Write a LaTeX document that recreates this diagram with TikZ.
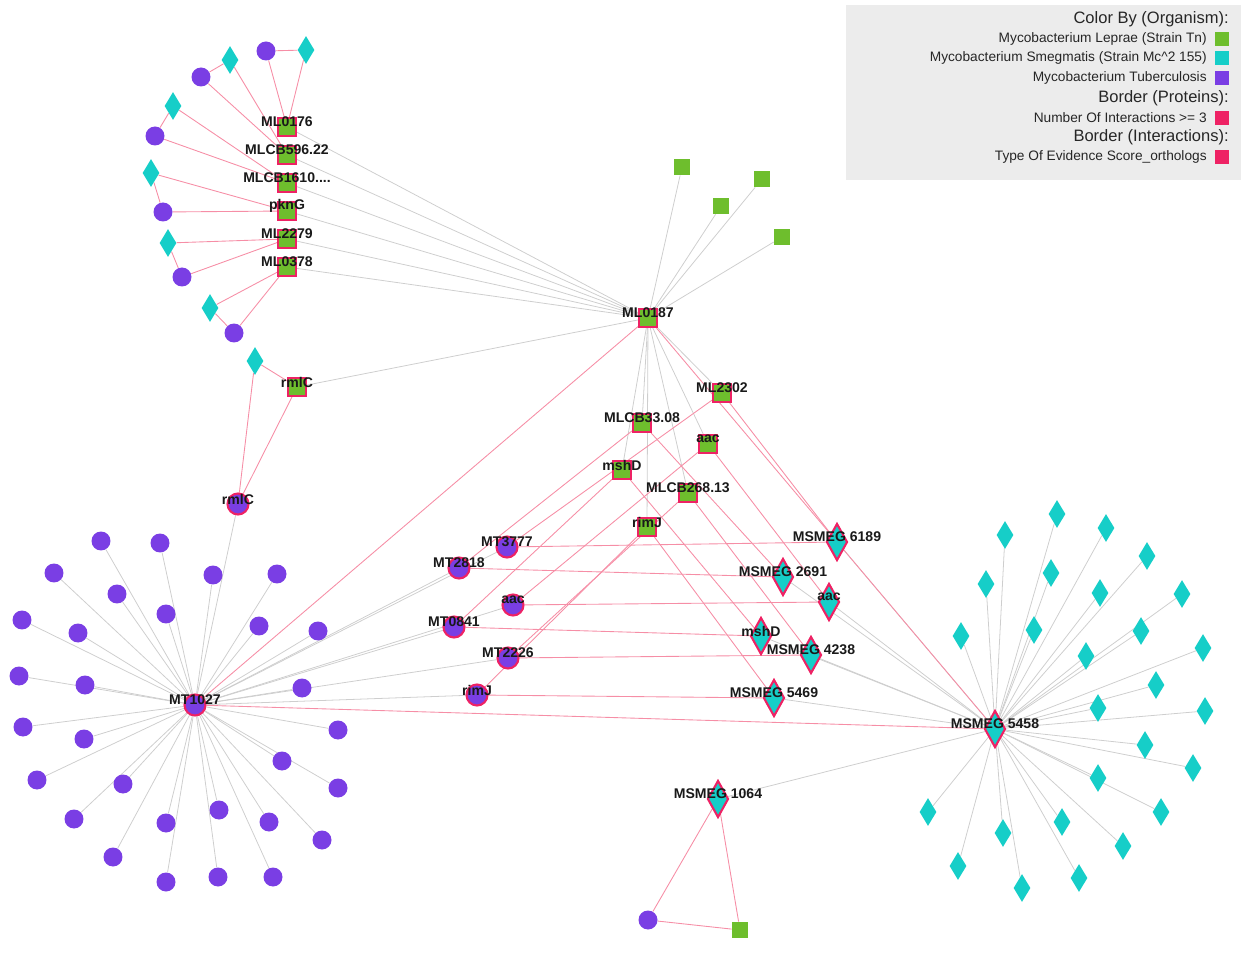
\documentclass[tikz,border=0pt]{standalone}
\usepackage{fontspec}
\setmainfont{Liberation Sans}
\usetikzlibrary{shapes.geometric,backgrounds}
\definecolor{mlgreen}{RGB}{110,190,45}
\definecolor{mscyan}{RGB}{22,206,200}
\definecolor{mtpurple}{RGB}{122,62,228}
\definecolor{hubpink}{RGB}{238,34,100}
\definecolor{linkpink}{RGB}{246,142,166}
\definecolor{linkgray}{RGB}{206,206,206}
\definecolor{legendbg}{RGB}{236,236,236}

\tikzset{
  mlsq/.style={rectangle,fill=mlgreen,minimum size=0.32cm,inner sep=0pt},
  mlhub/.style={mlsq,draw=hubpink,line width=1.2pt,minimum size=0.36cm},
  mtdot/.style={circle,fill=mtpurple,minimum size=0.38cm,inner sep=0pt},
  mthub/.style={mtdot,draw=hubpink,line width=1.2pt,minimum size=0.42cm},
  msdia/.style={diamond,fill=mscyan,minimum width=0.34cm,minimum height=0.56cm,inner sep=0pt},
  mshub/.style={msdia,draw=hubpink,line width=1.2pt,minimum width=0.42cm,minimum height=0.74cm},
  gene/.style={font=\bfseries\fontsize{8}{9}\selectfont,inner sep=0pt,yshift=0.1cm,text=black!90},
  gline/.style={linkgray,line width=0.45pt},
  pline/.style={linkpink,line width=0.5pt},
  leghead/.style={anchor=east,inner sep=0pt,text=black!85,font=\fontsize{9.4}{10}\selectfont},
  legitem/.style={anchor=east,inner sep=0pt,text=black!85,font=\fontsize{7.8}{8}\selectfont},
  legkey/.style={minimum size=0.28cm,inner sep=0pt}
}

\begin{document}
\begin{tikzpicture}[x=0.02cm,y=-0.02cm,line cap=round]
\useasboundingbox (0,0) rectangle (1241,959);

% legend
\fill[legendbg] (846,5) rectangle (1241,180);
\node[leghead] (lgorg) at (1229,19) {Color By (Organism):};
\node[legitem] (lgml) at (1207,39) {Mycobacterium Leprae (Strain Tn)};
\node[legkey,fill=mlgreen] (kml) at (1222,39) {};
\node[legitem] (lgms) at (1207,58) {Mycobacterium Smegmatis (Strain Mc\textasciicircum 2 155)};
\node[legkey,fill=mscyan] (kms) at (1222,58) {};
\node[legitem] (lgmt) at (1207,78) {Mycobacterium Tuberculosis};
\node[legkey,fill=mtpurple] (kmt) at (1222,78) {};
\node[leghead] (lgprot) at (1229,98) {Border (Proteins):};
\node[legitem] (lgnum) at (1207,118) {Number Of Interactions >= 3};
\node[legkey,fill=hubpink] (knum) at (1222,118) {};
\node[leghead] (lgint) at (1229,137) {Border (Interactions):};
\node[legitem] (lgev) at (1207,157) {Type Of Evidence Score\_orthologs};
\node[legkey,fill=hubpink] (kev) at (1222,157) {};

% top-left leprae cluster
\node[mlhub,label={[gene]center:ML0176}] (ml0176) at (287,127) {};
\node[mlhub,label={[gene]center:MLCB596.22}] (mlcb596) at (287,155) {};
\node[mlhub,label={[gene]center:MLCB1610....}] (mlcb1610) at (287,183) {};
\node[mlhub,label={[gene]center:pknG}] (pkng) at (287,211) {};
\node[mlhub,label={[gene]center:ML2279}] (ml2279) at (287,239) {};
\node[mlhub,label={[gene]center:ML0378}] (ml0378) at (287,267) {};
\node[mlhub,label={[gene]center:rmlC}] (rmlcml) at (297,387) {};
\node[mtdot] (c0176) at (266,51) {};
\node[msdia] (d0176) at (306,50) {};
\node[mtdot] (c596) at (201,77) {};
\node[msdia] (d596) at (230,60) {};
\node[mtdot] (c1610) at (155,136) {};
\node[msdia] (d1610) at (173,106) {};
\node[mtdot] (cpkng) at (163,212) {};
\node[msdia] (dpkng) at (151,173) {};
\node[mtdot] (c2279) at (182,277) {};
\node[msdia] (d2279) at (168,243) {};
\node[mtdot] (c0378) at (234,333) {};
\node[msdia] (d0378) at (210,308) {};
\node[msdia] (drmlc) at (255,361) {};
\node[mthub,label={[gene]center:rmlC}] (mtrmlc) at (238,504) {};

% plain leprae squares
\node[mlsq] (g1) at (682,167) {};
\node[mlsq] (g2) at (762,179) {};
\node[mlsq] (g3) at (721,206) {};
\node[mlsq] (g4) at (782,237) {};

% middle leprae hubs
\node[mlhub,label={[gene]center:ML0187}] (ml0187) at (648,318) {};
\node[mlhub,label={[gene]center:ML2302}] (ml2302) at (722,393) {};
\node[mlhub,label={[gene]center:MLCB33.08}] (mlcb3308) at (642,423) {};
\node[mlhub,label={[gene]center:aac}] (mlaac) at (708,444) {};
\node[mlhub,label={[gene]center:mshD}] (mlmshd) at (622,470) {};
\node[mlhub,label={[gene]center:MLCB268.13}] (mlcb26813) at (688,493) {};
\node[mlhub,label={[gene]center:rimJ}] (mlrimj) at (647,527) {};

% tuberculosis hubs
\node[mthub,label={[gene]center:MT3777}] (mt3777) at (507,547) {};
\node[mthub,label={[gene]center:MT2818}] (mt2818) at (459,568) {};
\node[mthub,label={[gene]center:aac}] (mtaac) at (513,605) {};
\node[mthub,label={[gene]center:MT0841}] (mt0841) at (454,627) {};
\node[mthub,label={[gene]center:MT2226}] (mt2226) at (508,658) {};
\node[mthub,label={[gene]center:rimJ}] (mtrimj) at (477,695) {};
\node[mthub,label={[gene]center:MT1027}] (mt1027) at (195,705) {};

% smegmatis hubs
\node[mshub,label={[gene]center:MSMEG 6189}] (ms6189) at (837,542) {};
\node[mshub,label={[gene]center:MSMEG 2691}] (ms2691) at (783,577) {};
\node[mshub,label={[gene]center:aac}] (msaac) at (829,602) {};
\node[mshub,label={[gene]center:mshD}] (msmshd) at (761,636) {};
\node[mshub,label={[gene]center:MSMEG 4238}] (ms4238) at (811,655) {};
\node[mshub,label={[gene]center:MSMEG 5469}] (ms5469) at (774,698) {};
\node[mshub,label={[gene]center:MSMEG 5458}] (ms5458) at (995,729) {};
\node[mshub,label={[gene]center:MSMEG 1064}] (ms1064) at (718,799) {};
\node[mtdot] (botc) at (648,920) {};
\node[mlsq] (bots) at (740,930) {};

% satellites
\foreach \x/\y [count=\i] in {101/541,160/543,54/573,213/575,277/574,117/594,166/614,
  22/620,78/633,259/626,318/631,19/676,85/685,302/688,23/727,84/739,338/730,37/780,
  123/784,282/761,338/788,74/819,166/823,219/810,269/822,322/840,113/857,166/882,
  218/877,273/877}
  \node[mtdot] (tb\i) at (\x,\y) {};
\foreach \x/\y [count=\i] in {1057/514,1106/528,1005/535,1147/556,1051/573,986/584,
  1100/593,1182/594,961/636,1034/630,1141/631,1086/656,1203/648,1156/685,1098/708,
  1205/711,1145/745,1193/768,1098/778,1161/812,928/812,1062/822,1003/833,1123/846,
  958/866,1079/878,1022/888}
  \node[msdia] (sd\i) at (\x,\y) {};

\begin{scope}[on background layer]
\foreach \n in {ml0176,mlcb596,mlcb1610,pkng,ml2279,ml0378,rmlcml,g1,g2,g3,g4,
  ml2302,mlcb3308,mlaac,mlmshd,mlcb26813,mlrimj}
  \draw[gline] (ml0187) -- (\n);
\foreach \i in {1,...,30} \draw[gline] (mt1027) -- (tb\i);
\foreach \n in {mtrmlc,mt3777,mt2818,mtaac,mt0841,mt2226,mtrimj}
  \draw[gline] (mt1027) -- (\n);
\foreach \i in {1,...,27} \draw[gline] (ms5458) -- (sd\i);
\foreach \n in {ms6189,ms2691,msaac,msmshd,ms4238,ms5469,ms1064}
  \draw[gline] (ms5458) -- (\n);
% orthologs
\foreach \a/\b/\c in {ml0187/mt1027/ms5458,ml2302/mt3777/ms6189,mlcb3308/mt2818/ms2691,
  mlaac/mtaac/msaac,mlmshd/mt0841/msmshd,mlcb26813/mt2226/ms4238,mlrimj/mtrimj/ms5469,
  rmlcml/mtrmlc/drmlc,ms1064/botc/bots,ml0176/c0176/d0176,mlcb596/c596/d596,
  mlcb1610/c1610/d1610,pkng/cpkng/dpkng,ml2279/c2279/d2279,ml0378/c0378/d0378}
  \draw[pline] (\a) -- (\b) (\b) -- (\c) (\c) -- (\a);
\end{scope}
\end{tikzpicture}
\end{document}
